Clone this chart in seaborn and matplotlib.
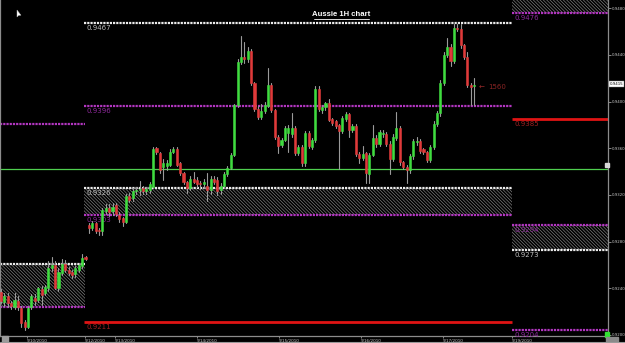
import numpy as np
import pandas as pd
import matplotlib
matplotlib.use("Agg")
import matplotlib.pyplot as plt
import seaborn as sns
from matplotlib.patches import Rectangle, Polygon
from matplotlib.lines import Line2D

# ---------------- data (AUD/USD hourly candles) ----------------
opens = [0.9237, 0.9228, 0.9233, 0.9227, 0.9224, 0.9229, 0.9223, 0.9211, 0.9207, 0.9224,
         0.9232, 0.9230, 0.9239, 0.9236, 0.9240, 0.9257, 0.9260, 0.9240, 0.9253, 0.9261,
         0.9256, 0.9254, 0.9252, 0.9256, 0.9259, 0.9267, 0.9294, 0.9292, 0.9296, 0.9290,
         0.9289, 0.9306, 0.9309, 0.9306, 0.9311, 0.9303, 0.9300, 0.9297, 0.9319, 0.9317,
         0.9323, 0.9324, 0.9326, 0.9323, 0.9324, 0.9327, 0.9360, 0.9356, 0.9344, 0.9345,
         0.9346, 0.9357, 0.9359, 0.9347, 0.9339, 0.9331, 0.9326, 0.9334, 0.9333, 0.9330,
         0.9329, 0.9328, 0.9324, 0.9334, 0.9333, 0.9324, 0.9328, 0.9338, 0.9343, 0.9354,
         0.9397, 0.9434, 0.9438, 0.9436, 0.9443, 0.9416, 0.9394, 0.9387, 0.9392, 0.9396,
         0.9414, 0.9393, 0.9370, 0.9363, 0.9367, 0.9373, 0.9372, 0.9377, 0.9356, 0.9361,
         0.9347, 0.9373, 0.9361, 0.9367, 0.9411, 0.9393, 0.9395, 0.9399, 0.9385, 0.9383,
         0.9380, 0.9375, 0.9385, 0.9389, 0.9376, 0.9379, 0.9355, 0.9352, 0.9356, 0.9338,
         0.9354, 0.9369, 0.9364, 0.9372, 0.9372, 0.9364, 0.9351, 0.9369, 0.9377, 0.9348,
         0.9344, 0.9341, 0.9353, 0.9365, 0.9366, 0.9359, 0.9357, 0.9350, 0.9361, 0.9381,
         0.9390, 0.9416, 0.9440, 0.9447, 0.9435, 0.9463, 0.9462, 0.9448, 0.9438, 0.9414,
         0.9413]
highs = [0.9239, 0.9236, 0.9236, 0.9229, 0.9236, 0.9233, 0.9225, 0.9213, 0.9225, 0.9235,
         0.9235, 0.9241, 0.9242, 0.9243, 0.9263, 0.9267, 0.9263, 0.9257, 0.9265, 0.9264,
         0.9258, 0.9256, 0.9259, 0.9262, 0.9269, 0.9268, 0.9296, 0.9298, 0.9297, 0.9292,
         0.9309, 0.9312, 0.9312, 0.9313, 0.9313, 0.9305, 0.9301, 0.9321, 0.9322, 0.9326,
         0.9327, 0.9332, 0.9328, 0.9327, 0.9331, 0.9361, 0.9361, 0.9357, 0.9351, 0.9350,
         0.9359, 0.9361, 0.9361, 0.9348, 0.9340, 0.9332, 0.9336, 0.9340, 0.9335, 0.9332,
         0.9334, 0.9339, 0.9336, 0.9336, 0.9335, 0.9330, 0.9340, 0.9345, 0.9356, 0.9398,
         0.9436, 0.9456, 0.9451, 0.9447, 0.9445, 0.9417, 0.9396, 0.9398, 0.9400, 0.9429,
         0.9416, 0.9394, 0.9371, 0.9369, 0.9379, 0.9380, 0.9390, 0.9379, 0.9363, 0.9363,
         0.9375, 0.9375, 0.9369, 0.9413, 0.9413, 0.9397, 0.9400, 0.9402, 0.9386, 0.9384,
         0.9381, 0.9388, 0.9391, 0.9390, 0.9381, 0.9381, 0.9357, 0.9362, 0.9357, 0.9356,
         0.9380, 0.9371, 0.9376, 0.9376, 0.9374, 0.9366, 0.9372, 0.9391, 0.9379, 0.9349,
         0.9346, 0.9355, 0.9368, 0.9370, 0.9368, 0.9360, 0.9358, 0.9363, 0.9383, 0.9392,
         0.9418, 0.9442, 0.9454, 0.9449, 0.9466, 0.9466, 0.9466, 0.9449, 0.9442, 0.9416,
         0.9420]
lows = [0.9227, 0.9225, 0.9224, 0.9222, 0.9222, 0.9221, 0.9207, 0.9204, 0.9206, 0.9222,
        0.9226, 0.9228, 0.9226, 0.9234, 0.9238, 0.9255, 0.9239, 0.9238, 0.9251, 0.9254,
        0.9251, 0.9249, 0.9250, 0.9254, 0.9257, 0.9264, 0.9287, 0.9290, 0.9287, 0.9286,
        0.9286, 0.9304, 0.9302, 0.9303, 0.9302, 0.9297, 0.9293, 0.9296, 0.9314, 0.9315,
        0.9321, 0.9320, 0.9321, 0.9321, 0.9322, 0.9326, 0.9355, 0.9339, 0.9333, 0.9341,
        0.9345, 0.9356, 0.9345, 0.9337, 0.9329, 0.9322, 0.9324, 0.9330, 0.9327, 0.9325,
        0.9326, 0.9315, 0.9321, 0.9329, 0.9320, 0.9321, 0.9326, 0.9336, 0.9342, 0.9353,
        0.9395, 0.9432, 0.9433, 0.9434, 0.9414, 0.9392, 0.9385, 0.9385, 0.9390, 0.9395,
        0.9391, 0.9368, 0.9356, 0.9361, 0.9366, 0.9357, 0.9370, 0.9354, 0.9354, 0.9345,
        0.9345, 0.9360, 0.9359, 0.9365, 0.9392, 0.9390, 0.9393, 0.9383, 0.9380, 0.9377,
        0.9342, 0.9373, 0.9383, 0.9370, 0.9374, 0.9353, 0.9347, 0.9350, 0.9330, 0.9330,
        0.9353, 0.9361, 0.9362, 0.9370, 0.9362, 0.9338, 0.9349, 0.9367, 0.9346, 0.9342,
        0.9330, 0.9339, 0.9351, 0.9363, 0.9356, 0.9355, 0.9348, 0.9348, 0.9359, 0.9379,
        0.9388, 0.9414, 0.9438, 0.9430, 0.9433, 0.9460, 0.9446, 0.9436, 0.9412, 0.9397,
        0.9397]
closes = [0.9229, 0.9233, 0.9227, 0.9225, 0.9230, 0.9224, 0.9210, 0.9207, 0.9223, 0.9233,
          0.9229, 0.9240, 0.9234, 0.9241, 0.9257, 0.9260, 0.9240, 0.9254, 0.9261, 0.9256,
          0.9253, 0.9251, 0.9257, 0.9260, 0.9266, 0.9265, 0.9292, 0.9296, 0.9289, 0.9289,
          0.9307, 0.9309, 0.9305, 0.9310, 0.9304, 0.9299, 0.9297, 0.9319, 0.9316, 0.9323,
          0.9324, 0.9325, 0.9323, 0.9325, 0.9329, 0.9359, 0.9357, 0.9341, 0.9347, 0.9347,
          0.9357, 0.9359, 0.9346, 0.9339, 0.9331, 0.9326, 0.9334, 0.9331, 0.9329, 0.9329,
          0.9331, 0.9324, 0.9334, 0.9331, 0.9323, 0.9328, 0.9338, 0.9343, 0.9354, 0.9397,
          0.9434, 0.9438, 0.9436, 0.9443, 0.9416, 0.9394, 0.9387, 0.9392, 0.9397, 0.9414,
          0.9393, 0.9370, 0.9362, 0.9367, 0.9377, 0.9377, 0.9377, 0.9356, 0.9361, 0.9347,
          0.9373, 0.9362, 0.9367, 0.9411, 0.9394, 0.9395, 0.9399, 0.9384, 0.9382, 0.9379,
          0.9375, 0.9386, 0.9389, 0.9376, 0.9379, 0.9355, 0.9352, 0.9355, 0.9339, 0.9354,
          0.9369, 0.9364, 0.9374, 0.9373, 0.9364, 0.9351, 0.9370, 0.9377, 0.9348, 0.9344,
          0.9341, 0.9353, 0.9366, 0.9366, 0.9358, 0.9357, 0.9350, 0.9361, 0.9381, 0.9390,
          0.9416, 0.9440, 0.9447, 0.9435, 0.9463, 0.9462, 0.9448, 0.9438, 0.9414, 0.9412,
          0.9414]

# Support / resistance levels (price) per session block
levels_left = [0.9381, 0.9261, 0.9224]
levels_left_kind = ["magenta", "white", "magenta"]
levels_mid = [0.9467, 0.9396, 0.9326, 0.9303, 0.9211]
levels_mid_kind = ["white", "magenta", "white", "magenta", "red"]
levels_right = [0.9476, 0.9385, 0.9294, 0.9273, 0.9204]
levels_right_kind = ["magenta", "red", "magenta", "white", "magenta"]
level_green = 0.9342
last_price = 0.9415
y_ticks = [0.9200, 0.9240, 0.9280, 0.9320, 0.9360, 0.9400, 0.9440, 0.9480]
date_labels = ["9/10/2010", "9/12/2010", "9/13/2010", "9/14/2010", "9/15/2010",
               "9/16/2010", "9/17/2010", "9/19/2010"]

# ---------------- layout ----------------
date_pos = [7.7, 24.9, 33.7, 58.0, 82.2, 106.5, 130.8, 151.2]
blk_left = (-0.3, 24.9)
blk_mid = (24.6, 151.2)
blk_right = (151.2, 179.6)
XLIM = (-0.3, 179.6)
YLIM = (0.919914, 0.948694)

sns.set_theme(style="dark", rc={"axes.facecolor": "black", "figure.facecolor": "black",
                                "axes.grid": False, "hatch.linewidth": 0.45})
plt.rcParams["font.family"] = ["DejaVu Sans"]

fig = plt.figure(figsize=(6.25, 3.43), dpi=100)
fig.patch.set_facecolor("black")
ax = fig.add_axes([0.0, 7 / 343, 608 / 625, 336 / 343])
ax.set_facecolor("black")

df = pd.DataFrame({"i": np.arange(len(opens)), "open": opens, "high": highs,
                   "low": lows, "close": closes})
df["bottom"] = df[["open", "close"]].min(axis=1)
df["height"] = (df["close"] - df["open"]).abs()
up = df[df["close"] >= df["open"]].reset_index(drop=True)
dn = df[df["close"] < df["open"]].reset_index(drop=True)

COL = {"white": "#ececec", "magenta": "#b236c0", "red": "#e01414"}
LAB = {"white": "#bdbdbd", "magenta": "#8e2a9c", "red": "#a02020"}

# hatched zones
def hatch_zone(x0, x1, y0, y1):
    ax.add_patch(Rectangle((x0, y0), x1 - x0, y1 - y0, facecolor="none",
                           edgecolor="#858585", hatch="\\" * 10, linewidth=0, zorder=1))

hatch_zone(*blk_left, levels_left[2], levels_left[1])
hatch_zone(*blk_mid, levels_mid[3], levels_mid[2])
hatch_zone(*blk_right, levels_right[3], levels_right[2])
hatch_zone(*blk_right, levels_right[0], YLIM[1])

def draw_levels(block, lv, kinds, label=True):
    for p, k in zip(lv, kinds):
        if k == "red":
            ax.hlines(p, block[0], block[1], color=COL[k], lw=2.0, zorder=2)
        else:
            ax.hlines(p, block[0], block[1], color=COL[k], lw=1.6,
                      linestyles=(0, (1.0, 0.45)), zorder=2)
        if label:
            ax.text(block[0] + 0.6, p - 0.00016, f"{p:.4f}", color=LAB[k], fontsize=5,
                    va="top", ha="left", zorder=3)

draw_levels(blk_left, levels_left, levels_left_kind, label=False)
draw_levels(blk_mid, levels_mid, levels_mid_kind)
draw_levels(blk_right, levels_right, levels_right_kind)
ax.axhline(level_green, color="#4fcf4f", lw=0.9, zorder=2)

# wicks
wick = pd.concat([df[["i"]].assign(price=df["low"]), df[["i"]].assign(price=df["high"])])
sns.lineplot(data=wick, x="i", y="price", units="i", estimator=None, sort=False,
             color="#9a9a9a", lw=0.8, legend=False, ax=ax, zorder=4)

# bodies
sns.barplot(data=up, x="i", y="height", bottom=up["bottom"].to_numpy(), native_scale=True,
            orient="x", color="#3fdc3f", saturation=1, width=0.62, errorbar=None,
            edgecolor="#3fdc3f", linewidth=0.4, ax=ax, zorder=5)
sns.barplot(data=dn, x="i", y="height", bottom=dn["bottom"].to_numpy(), native_scale=True,
            orient="x", color="#e03a3a", saturation=1, width=0.62, errorbar=None,
            edgecolor="#e03a3a", linewidth=0.4, ax=ax, zorder=5)

ax.set_xlim(*XLIM)
ax.set_ylim(*YLIM)
ax.set_xlabel("")
ax.set_ylabel("")

# axes styling
ax.spines["top"].set_visible(False)
for s in ["left", "right", "bottom"]:
    ax.spines[s].set_visible(True)
    ax.spines[s].set_color("#8c8c8c")
    ax.spines[s].set_linewidth(0.9)
ax.yaxis.tick_right()
ax.set_yticks(y_ticks)
ax.set_yticklabels([f"{v:.4f}" for v in y_ticks])
ax.tick_params(axis="y", which="both", right=True, left=False, length=2, width=0.5,
               color="#bbbbbb", labelsize=2.8, labelcolor="#c8c8c8", pad=1)
ax.set_xticks(date_pos)
ax.set_xticklabels(date_labels)
for t in ax.get_xticklabels():
    t.set_ha("left")
ax.tick_params(axis="x", which="both", bottom=True, length=1.5, width=0.5,
               color="#bbbbbb", labelsize=3.0, labelcolor="#c8c8c8", pad=0.6)

# last price box
ax.text(1.003, last_price, f"{last_price:.4f}", transform=ax.get_yaxis_transform(),
        fontsize=2.8, color="black", va="center", ha="left", clip_on=False,
        bbox=dict(boxstyle="square,pad=0.25", fc="white", ec="#888888", lw=0.3))

# arrow + pip label
ax.text(len(opens) + 0.3, 0.9412, "\u2190", color="#9a2a2a", fontsize=5, va="center", ha="left")
ax.text(len(opens) + 3.3, 0.9412, "1560", color="#8a2424", fontsize=5, va="center", ha="left")

# title with underline
fig.text(341 / 625, 1 - 14.2 / 343, "Aussie 1H chart", color="white", fontsize=5.6,
         fontweight="bold", ha="center", va="center", family=["Liberation Sans", "DejaVu Sans"])
fig.add_artist(Line2D([314 / 625, 369 / 625], [1 - 18.6 / 343] * 2, color="white", lw=0.6))

# decorations (cursor, status boxes)
fig.add_artist(Polygon([(17 / 625, 1 - 10 / 343), (17 / 625, 1 - 17 / 343),
                        (18.6 / 625, 1 - 15.4 / 343), (21 / 625, 1 - 15.2 / 343)],
                       closed=True, transform=fig.transFigure, fc="white", ec="#bbbbbb", lw=0.3))
fig.add_artist(Rectangle((604.5 / 625, 1 - 167 / 343), 4 / 625, 4 / 343,
                         transform=fig.transFigure, color="#d8d8d8"))
fig.add_artist(Rectangle((605 / 625, 6 / 343), 4 / 625, 5 / 343, transform=fig.transFigure,
                         color="#33e033"))
fig.add_artist(Rectangle((2 / 625, 1 / 343), 6 / 625, 6 / 343, transform=fig.transFigure,
                         color="#9a9a9a"))
fig.add_artist(Rectangle((606 / 625, 1 / 343), 12 / 625, 5 / 343, transform=fig.transFigure,
                         color="#8a8a8a"))
fig.add_artist(Line2D([0, 1], [0.6 / 343] * 2, color="#9a9a9a", lw=0.8))

fig.savefig("out.png", dpi=100, facecolor="black")
